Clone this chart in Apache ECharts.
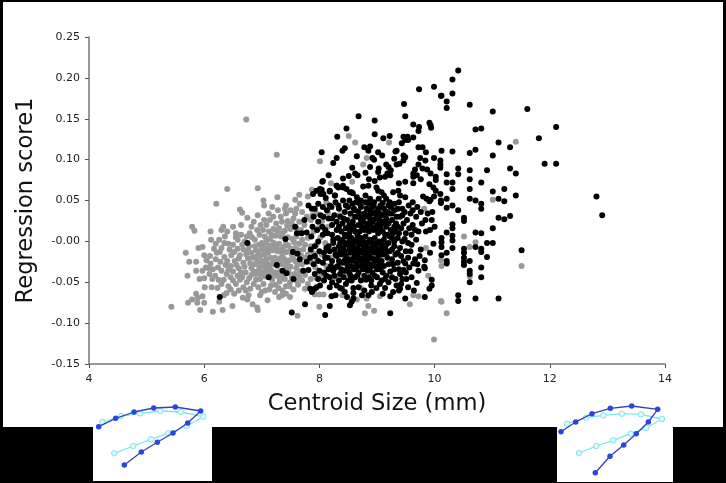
<!DOCTYPE html>
<html>
<head>
<meta charset="utf-8">
<style>
  html, body { margin: 0; padding: 0; background: #000; }
  #main { width: 726px; height: 483px; }
</style>
</head>
<body>
<div id="main"></div>
<script src="https://cdn.jsdelivr.net/npm/echarts@6/dist/echarts.min.js"></script>
<script>
// tick labels
var xTicks = ['4', '6', '8', '10', '12', '14'];
var yTicks = ['-0.15', '-0.10', '-0.05', '-0.00', '0.05', '0.10', '0.15', '0.20', '0.25'];

// grey points
var greyOuter = [[5.43,-.080],[5.72,-.075],[5.79,-.071],[5.86,-.064],[5.89,-.069],[5.97,-.067],[5.88,-.075],[6.00,-.075],[5.93,-.084],[6.15,-.086],[6.32,-.084],[6.49,-.079],[6.26,-.074],[6.23,-.057],[6.39,-.063],[6.52,-.064],[6.67,-.069],[6.77,-.066],[6.75,-.071],[6.84,-.077],[6.92,-.081],[6.93,-.084],[7.10,-.072],[7.30,-.068],[7.35,-.066],[7.49,-.068],[7.42,-.064],[7.23,-.062],[6.97,-.066],[7.06,-.060],[6.01,-.056],[5.92,-.046],[5.71,-.042],[5.86,-.036],[5.74,-.025],[5.86,-.025],[5.68,-.014],[5.90,-.008],[5.97,-.007],[5.79,.018],[5.83,.013],[6.21,.046],[6.40,.064],[6.93,.065],[7.27,.054],[7.03,.050],[7.04,.044],[6.62,.039],[6.66,.035],[6.75,.029],[6.93,.032],[7.42,.044],[7.58,.051],[7.65,.057],[7.66,.046],[6.73,.149],[7.26,.106],[9.99,-.120],[7.62,-.091],[8.00,-.080],[8.00,-.065],[8.07,-.065],[7.92,-.065],[7.75,-.058],[8.40,-.066],[8.65,-.071],[8.72,-.057],[8.82,-.070],[8.85,-.079],[8.95,-.085],[8.79,-.088],[9.05,-.067],[9.57,-.077],[9.63,-.066],[9.72,-.067],[9.89,-.042],[9.85,-.008],[9.82,.040],[10.11,-.023],[10.11,-.073],[10.21,-.088],[10.12,-.074],[10.12,-.030],[10.51,.006],[10.61,-.007],[10.71,-.001],[10.61,-.043],[11.01,.051],[11.41,.122],[11.51,-.030],[8.51,.129],[8.62,.121],[9.21,.121],[8.82,.102],[8.01,.098],[8.76,.094],[8.57,.073],[8.20,.071],[7.87,.063],[7.80,.055],[8.12,.048],[7.95,.034]];

var greyCore = [[6.11,.012],[6.33,.018],[6.30,.014],[6.40,.012],[6.55,.010],[6.64,.008],[6.79,.010],[6.83,.005],[6.35,-.002],[6.42,-.003],[6.20,-.003],[6.30,-.008],[6.17,-.009],[6.00,-.017],[6.10,-.018],[6.04,-.023],[6.11,-.027],[6.22,-.014],[6.27,-.013],[6.35,-.019],[6.47,-.017],[6.58,-.009],[6.70,.000],[6.03,-.032],[5.97,-.036],[6.09,-.040],[6.19,-.042],[6.14,-.046],[6.30,-.036],[6.39,-.040],[6.46,-.044],[6.55,-.052],[6.42,-.055],[6.68,-.056],[6.72,-.060],[6.62,-.047],[6.78,-.045],[6.86,-.052],[6.94,-.056],[7.03,-.052],[7.16,-.054],[7.29,-.057],[7.42,-.055],[7.55,-.059],[7.63,-.053],[6.28,-.025],[6.37,-.029],[6.46,-.030],[6.53,-.024],[6.60,-.033],[6.68,-.026],[6.72,-.038],[6.82,-.033],[6.90,-.040],[6.97,-.046],[7.06,-.043],[7.18,-.047],[7.31,-.049],[7.40,-.046],[7.49,-.050],[6.62,-.017],[6.73,-.016],[6.78,-.006],[6.84,-.020],[6.90,-.011],[6.95,-.004],[6.88,.002],[6.96,.008],[7.02,.014],[7.08,.020],[7.14,.026],[7.12,.034],[7.28,.038],[7.33,.030],[7.42,.034],[7.50,.038],[7.60,.040],[7.70,.036],[7.25,.022],[7.35,.024],[7.45,.025],[7.55,.028],[7.65,.024],[7.78,.030],[7.85,.026],[7.05,.006],[7.12,.012],[7.20,.015],[7.30,.016],[7.40,.013],[7.50,.015],[7.60,.006],[7.70,.002],[7.80,.004],[7.90,.012],[7.00,-.002],[7.08,-.001],[7.15,.003],[7.24,.007],[7.33,.006],[7.45,.005],[7.53,.003],[7.65,-.003],[7.00,-.010],[7.06,-.009],[7.13,-.006],[7.21,-.002],[7.30,-.003],[7.38,-.007],[7.46,-.005],[7.58,-.008],[7.72,-.010],[7.85,-.006],[6.97,-.018],[7.04,-.016],[7.11,-.014],[7.19,-.011],[7.27,-.012],[7.35,-.014],[7.43,-.013],[7.52,-.016],[7.68,-.017],[7.80,-.016],[6.92,-.025],[7.00,-.024],[7.08,-.022],[7.15,-.020],[7.23,-.020],[7.31,-.021],[7.39,-.022],[7.48,-.023],[7.58,-.024],[7.70,-.028],[7.85,-.025],[6.88,-.028],[6.96,-.032],[7.04,-.030],[7.11,-.028],[7.19,-.028],[7.27,-.030],[7.34,-.028],[7.42,-.030],[7.50,-.031],[7.60,-.033],[7.75,-.041],[7.02,-.038],[7.10,-.036],[7.17,-.036],[7.24,-.038],[7.32,-.037],[7.38,-.040],[7.47,-.038],[7.57,-.040],[7.65,-.043],[7.85,-.046],[7.95,-.045],[8.03,-.040],[7.90,-.015],[7.95,-.004],[8.02,.005],[8.10,-.002],[8.15,.018],[8.05,.025],[8.20,-.020],[8.12,-.030],[7.93,-.032],[8.30,-.045],[8.45,-.040],[8.70,-.035],[8.55,.030],[8.35,.032],[8.78,.045],[9.05,-.022]];

// more grey: the solid middle of the cloud and its left side
var greyFill = [[6.50,-.004],[6.58,.002],[6.66,-.004],[6.74,.006],[6.92,.014],[6.98,.020],[7.04,.026],[7.20,.030],[7.08,.003],[7.17,.008],[7.27,.012],[7.36,.010],[7.44,.019],[7.52,.022],[7.60,.016],[7.68,.014],[7.74,.020],[6.44,-.010],[6.52,-.013],[6.60,-.021],[6.68,-.010],[6.76,-.011],[6.82,-.014],[6.88,-.006],[6.94,-.015],[7.02,-.006],[7.10,-.010],[7.18,-.005],[7.25,-.007],[7.34,-.010],[7.42,-.003],[7.50,-.009],[7.56,-.001],[7.64,-.011],[7.75,-.004],[6.40,-.024],[6.50,-.037],[6.56,-.029],[6.64,-.038],[6.70,-.031],[6.76,-.021],[6.80,-.027],[6.86,-.037],[6.90,-.019],[6.94,-.036],[7.00,-.029],[7.06,-.025],[7.13,-.032],[7.20,-.024],[7.28,-.025],[7.36,-.018],[7.44,-.026],[7.54,-.020],[7.62,-.028],[7.66,-.037],[7.76,-.020],[6.24,-.032],[6.34,-.047],[6.42,-.035],[6.50,-.048],[6.58,-.042],[6.66,-.044],[6.74,-.050],[6.82,-.041],[6.90,-.047],[6.98,-.040],[7.06,-.035],[7.12,-.040],[7.20,-.041],[7.28,-.043],[7.36,-.043],[7.44,-.034],[7.52,-.044],[7.60,-.048],[7.70,-.048],[7.80,-.052],[6.20,-.022],[6.15,-.034],[6.25,-.047],[6.08,-.033],[6.00,-.045],[6.13,-.056],[6.30,-.052],[6.34,-.066],[6.46,-.059],[6.60,-.060],[6.80,-.058],[7.00,-.062],[7.13,-.059],[7.24,-.053],[7.36,-.060],[7.48,-.055],[6.12,.002],[6.26,.002],[6.36,.006],[6.50,.018],[6.64,.020],[6.82,.018],[6.86,.024],[6.55,.005],[7.95,-.022],[8.04,-.016],[8.08,-.044],[7.98,.016],[7.88,.032],[8.15,.035],[7.58,.034],[7.40,.040],[7.18,.042]];

// black points
var blackSparse = [[10.41,.209],[10.31,.198],[10.31,.181],[10.12,.178],[10.21,.171],[10.21,.163],[10.61,.167],[11.01,.159],[11.61,.162],[12.11,.140],[11.81,.126],[10.71,.137],[10.81,.138],[11.11,.121],[11.31,.115],[11.01,.105],[10.71,.112],[10.61,.108],[10.31,.110],[10.12,.111],[11.91,.095],[12.11,.095],[11.31,.089],[11.41,.083],[10.91,.087],[10.61,.087],[10.41,.089],[10.41,.082],[10.61,.076],[10.81,.072],[10.21,.082],[10.21,.072],[10.31,.072],[10.31,.064],[10.61,.064],[11.21,.064],[11.01,.061],[11.41,.056],[12.81,.055],[12.91,.032],[11.11,.052],[11.21,.049],[10.61,.052],[10.71,.050],[10.81,.046],[10.81,.040],[10.31,.044],[10.21,.041],[10.41,.038],[10.51,.029],[10.51,.025],[11.11,.029],[11.21,.027],[11.31,.031],[11.01,.016],[10.31,.021],[10.31,.016],[10.21,.011],[10.71,.011],[10.81,.010],[10.31,.007],[10.31,.001],[10.12,.004],[10.12,-.001],[10.12,-.007],[10.91,-.002],[11.01,-.002],[10.71,-.007],[10.31,-.008],[10.81,-.009],[10.81,-.013],[10.51,-.009],[10.51,-.014],[10.51,-.020],[10.51,-.025],[10.51,-.029],[10.21,-.014],[10.12,-.017],[10.91,-.019],[11.51,-.011],[10.61,-.024],[10.21,-.024],[10.21,-.027],[10.81,-.032],[10.61,-.036],[10.61,-.040],[10.81,-.044],[10.61,-.050],[10.71,-.070],[10.41,-.066],[10.41,-.073],[11.11,-.070]];

var blackUpper = [[9.73,.186],[9.99,.189],[10.11,.178],[9.47,.168],[9.49,.153],[8.68,.153],[8.96,.148],[9.63,.143],[9.73,.140],[9.91,.145],[9.93,.142],[9.94,.139],[9.72,.135],[8.47,.138],[8.96,.131],[8.31,.128],[9.11,.126],[9.22,.129],[9.46,.128],[9.53,.128],[9.49,.124],[9.43,.120],[9.54,.124],[9.63,.127],[8.78,.115],[8.88,.116],[8.85,.111],[9.72,.115],[9.79,.115],[9.85,.109],[8.04,.109],[8.44,.114],[8.40,.111],[9.02,.109],[9.34,.111],[9.32,.110],[9.09,.105],[9.46,.105],[9.49,.103],[9.75,.102],[8.65,.104],[8.30,.102],[8.24,.096],[8.92,.102],[8.95,.100],[9.30,.101],[9.46,.099],[9.34,.094],[9.39,.095],[9.84,.099],[9.99,.102],[10.10,.099],[10.10,.094],[10.10,.090],[8.88,.091],[8.57,.090],[9.16,.094],[9.20,.091],[9.24,.087],[9.18,.083],[9.14,.079],[9.23,.081],[9.03,.089],[9.02,.085],[9.72,.094],[9.66,.088],[9.79,.089],[9.87,.088],[9.93,.083],[9.63,.083],[9.69,.081],[9.63,.079],[8.16,.081],[8.80,.084],[8.62,.083],[8.66,.081],[8.51,.080],[8.41,.077],[8.86,.076],[9.05,.078],[8.96,.074],[8.06,.074],[9.49,.073],[9.38,.071],[9.76,.076],[9.63,.071],[9.91,.070],[10.02,.079],[10.02,.075],[8.30,.068],[8.33,.066],[8.41,.068],[8.47,.064],[8.53,.060],[8.58,.059],[8.76,.067],[8.85,.068],[8.04,.063],[8.02,.058],[8.27,.056],[8.18,.061],[9.37,.062],[9.28,.060],[9.40,.056],[9.98,.066],[10.02,.062],[10.10,.058],[8.99,.066],[9.02,.062],[9.08,.060],[9.49,.054],[9.80,.055],[9.86,.052],[9.93,.051],[9.99,.055],[10.11,.050],[10.21,.052]];

var blackLower = [[9.91,.049],[10.11,.047],[9.98,-.003],[9.92,-.014],[9.66,-.022],[9.63,-.027],[9.83,-.023],[9.82,-.031],[9.83,-.033],[9.69,-.051],[9.64,-.060],[9.95,-.047],[9.95,-.054],[9.91,-.058],[9.83,-.068],[9.49,-.070],[9.38,-.060],[9.28,-.062],[9.23,-.067],[9.40,-.058],[9.51,-.046],[9.46,-.035],[9.49,-.027],[9.23,-.037],[9.16,-.042],[9.08,-.048],[9.05,-.052],[8.99,-.057],[9.14,-.057],[8.91,-.062],[8.85,-.066],[9.23,-.088],[8.53,-.078],[8.56,-.074],[8.59,-.070],[8.18,-.079],[8.21,-.067],[7.75,-.077],[7.52,-.087],[8.10,-.090],[8.59,-.063],[8.39,-.058],[8.44,-.062],[8.30,-.054],[8.36,-.057],[8.81,-.047],[8.56,-.048],[8.59,-.057],[8.01,-.054],[7.92,-.058],[7.87,-.060],[7.87,-.062],[7.95,-.056],[7.84,-.058],[6.75,-.002],[6.27,-.068],[7.41,.003],[7.26,-.029],[7.36,-.036],[7.43,-.039],[7.55,-.046],[7.12,-.044],[7.74,.026],[7.58,.018],[7.61,.010],[7.69,.010],[7.78,.011],[7.54,-.013],[7.62,-.015],[7.66,-.022],[7.78,-.025],[7.72,-.036],[7.81,-.035],[7.89,.058],[7.95,.062],[8.05,.073],[8.01,.064],[8.07,.058],[8.18,.062],[8.11,.053],[8.27,.056],[8.30,.068],[8.41,.066],[8.56,.060],[7.81,.044],[7.87,.040],[7.92,.040],[7.98,.046],[8.13,.038],[8.21,.042],[8.33,.044],[8.41,.050],[8.50,.042],[8.65,.054]];

var blackDense = [[8.72,.050],[8.80,.056],[8.88,.052],[8.95,.048],[9.03,.052],[9.10,.047],[9.16,.052],[9.22,.048],[9.30,.046],[9.38,.048],[9.55,.044],[9.62,.048],[9.70,.042],[9.30,.038],[9.44,.040],[9.58,.034],[9.68,.030],[9.76,.036],[9.88,.034],[9.95,.026],[10.00,.018],[9.78,.022],[9.85,.012],[9.72,.012],[9.62,.020],[9.52,.026],[9.40,.030],[9.33,.022],[9.22,.034],[9.12,.040],[9.02,.040],[8.92,.042],[8.82,.040],[8.72,.042],[8.62,.038],[8.54,.034],[8.44,.036],[8.36,.030],[8.26,.032],[8.16,.028],[8.07,.030],[7.98,.024],[7.88,.018],[7.96,.014],[8.05,.018],[8.14,.010],[8.22,.020],[8.30,.024],[8.40,.022],[8.48,.026],[8.58,.024],[8.66,.030],[8.74,.032],[8.84,.032],[8.92,.034],[9.00,.030],[9.08,.032],[9.16,.028],[9.26,.026],[8.68,.020],[8.76,.024],[8.84,.022],[8.92,.024],[9.00,.020],[9.08,.022],[9.16,.018],[9.24,.014],[9.32,.012],[9.42,.016],[9.50,.010],[9.60,.008],[9.68,.002],[8.22,.008],[8.30,.014],[8.38,.012],[8.46,.016],[8.54,.014],[8.62,.012],[8.70,.012],[8.78,.014],[8.86,.012],[8.94,.014],[9.02,.010],[9.10,.012],[9.18,.008],[9.26,.004],[9.36,.004],[9.44,.000],[9.54,-.002],[7.98,.000],[8.06,.008],[8.16,-.006],[8.24,-.002],[8.32,.004],[8.40,.002],[8.48,.006],[8.56,.004],[8.64,.002],[8.72,.004],[8.80,.006],[8.88,.002],[8.96,.004],[9.04,.000],[9.12,.002],[9.20,-.002],[9.30,-.006],[9.40,-.008],[9.50,-.012],[9.58,-.012],[9.76,-.010],[9.74,-.018],[7.85,-.010],[7.92,-.018],[8.00,-.012],[8.08,-.014],[8.18,-.012],[8.26,-.010],[8.34,-.006],[8.42,-.008],[8.50,-.004],[8.58,-.006],[8.66,-.008],[8.74,-.004],[8.82,-.006],[8.90,-.008],[8.98,-.006],[9.06,-.010],[9.14,-.008],[9.22,-.012],[9.32,-.016],[9.42,-.018],[9.54,-.020],[7.90,-.028],[7.98,-.024],[8.06,-.026],[8.14,-.020],[8.22,-.024],[8.30,-.018],[8.38,-.016],[8.46,-.018],[8.54,-.014],[8.62,-.016],[8.70,-.014],[8.78,-.016],[8.86,-.018],[8.94,-.014],[9.02,-.018],[9.10,-.016],[9.18,-.020],[9.26,-.022],[9.36,-.026],[9.56,-.032],[9.72,-.036],[8.00,-.036],[8.08,-.038],[8.16,-.034],[8.24,-.036],[8.32,-.030],[8.40,-.026],[8.48,-.028],[8.56,-.024],[8.64,-.026],[8.72,-.024],[8.80,-.026],[8.88,-.028],[8.96,-.024],[9.04,-.028],[9.12,-.030],[9.30,-.034],[9.40,-.040],[9.60,-.044],[9.32,-.046],[7.98,-.046],[8.08,-.048],[8.18,-.044],[8.26,-.042],[8.36,-.040],[8.44,-.036],[8.52,-.038],[8.60,-.034],[8.68,-.038],[8.76,-.034],[8.84,-.036],[8.92,-.038],[9.00,-.034],[9.10,-.038],[8.18,-.056],[8.50,-.048],[8.62,-.044],[8.72,-.048],[8.90,-.048],[9.00,-.044],[9.20,-.050],[9.10,-.064],[9.42,-.052],[9.54,-.056],[8.46,-.052],[8.68,-.056],[8.78,-.060],[8.28,-.066]];

// more black: the packed centre of the cloud
var blackFill = [[8.34,.040],[8.46,.044],[8.58,.046],[8.68,.036],[8.78,.034],[8.88,.038],[8.98,.036],[9.06,.044],[9.18,.036],[8.42,.028],[8.52,.020],[8.62,.030],[8.72,.026],[8.80,.030],[8.88,.028],[8.96,.027],[9.04,.026],[9.12,.024],[9.20,.022],[9.30,.018],[8.34,.018],[8.44,.008],[8.52,.010],[8.60,.018],[8.66,.008],[8.74,.018],[8.82,.018],[8.90,.018],[8.98,.016],[9.06,.016],[9.14,.008],[9.22,.006],[9.30,.000],[8.36,-.002],[8.44,-.002],[8.52,.000],[8.60,-.001],[8.68,-.002],[8.76,.000],[8.84,-.001],[8.92,-.002],[9.00,-.002],[9.08,-.004],[9.16,-.004],[9.26,-.010],[8.28,-.016],[8.36,-.012],[8.44,-.013],[8.52,-.010],[8.60,-.011],[8.68,-.011],[8.76,-.010],[8.84,-.012],[8.92,-.012],[9.00,-.012],[9.08,-.013],[9.16,-.014],[8.12,-.008],[8.34,-.024],[8.44,-.023],[8.52,-.022],[8.60,-.020],[8.68,-.020],[8.76,-.021],[8.84,-.022],[8.92,-.021],[9.00,-.022],[9.08,-.024],[9.20,-.028],[8.20,-.030],[8.28,-.032],[8.38,-.034],[8.48,-.034],[8.56,-.031],[8.64,-.032],[8.72,-.030],[8.80,-.031],[8.88,-.032],[8.96,-.030],[9.06,-.034],[8.12,-.042],[8.22,-.050],[8.34,-.048],[8.42,-.044],[8.54,-.042],[8.66,-.042],[8.78,-.042],[8.86,-.044],[8.96,-.042],[9.14,-.046],[9.26,-.044],[8.24,.002],[8.10,.014],[8.02,.032],[8.18,.044],[8.28,.048],[8.52,.050],[8.64,.048],[8.80,.048],[9.12,.056],[9.24,.042],[9.36,.040],[9.48,.036],[9.62,.038],[9.46,.022],[9.56,.016],[9.66,.014],[9.38,.010],[9.48,.003],[9.60,-.004],[9.36,-.014],[9.46,-.024],[9.28,-.028],[9.38,-.034],[9.50,-.038],[9.44,-.046],[9.70,-.028],[9.34,-.054],[8.90,-.054],[8.74,-.066],[8.48,-.068],[8.10,-.020],[7.92,-.006],[7.86,.006],[7.84,-.020],[7.92,-.040],[7.90,.030],[8.06,.042],[8.22,.028],[9.84,.026],[9.92,.014],[9.96,.036],[8.94,.044],[9.04,.034],[9.14,.034],[9.26,.034],[9.34,.030],[9.44,.032],[9.20,.044],[9.10,.024],[8.86,.046],[8.70,.046],[8.60,.040],[9.28,.010],[9.36,.018]];

// the two little outlines under the plot
var leftDark = [[5.7,26.7],[22.7,18.3],[41,12],[60.7,8],[82.3,7],[107.7,11],[94.7,23],[80,33],[64.3,42.3],[48.3,52],[31.3,65]];
var leftLight = [[9.3,22],[28,16],[47,13.3],[67.3,11],[87.7,12],[110.3,16.7],[93.7,26],[75.3,33.3],[58,39.3],[40.3,46],[21.3,53.3]];
var rightDark = [[4,31.7],[18.7,22],[35,13.7],[53.3,8.3],[74.7,6],[100.7,9.3],[91.3,22],[79.3,33.7],[66.7,45],[53,56.3],[38.3,72.7]];
var rightLight = [[10,23.7],[29,17.7],[46.3,15.3],[64.7,13.7],[84,14.3],[105,19],[89,28],[73.7,33.7],[56.3,40.3],[39.3,46],[22,53]];

function outline(data, idx, dark) {
    return {
        type: 'line',
        xAxisIndex: idx,
        yAxisIndex: idx,
        data: data,
        symbol: 'circle',
        symbolSize: 5.5,
        silent: true,
        animation: false,
        z: dark ? 6 : 5,
        lineStyle: { color: dark ? '#3a3fb8' : '#7ce6ee', width: 1.3 },
        itemStyle: dark
            ? { color: '#2b45e0' }
            : { color: '#dffafc', borderColor: '#7ce6ee', borderWidth: 1 }
    };
}

function hiddenAxis(max, inverse) {
    return { type: 'value', min: 0, max: max, inverse: inverse, show: false };
}

var myChart = echarts.init(document.getElementById('main'), null, { renderer: 'canvas' });

var labelFont = { color: '#222', fontSize: 11, fontFamily: 'DejaVu Sans' };
var nameFont = { color: '#111', fontSize: 22.6, fontFamily: 'DejaVu Sans' };

var option = {
    animation: false,
    backgroundColor: '#000',
    graphic: [
        { type: 'rect', z: -1, shape: { x: 3, y: 2, width: 720, height: 425 }, style: { fill: '#fff' } },
        { type: 'rect', z: -1, shape: { x: 93, y: 420, width: 119, height: 61 }, style: { fill: '#fff' } },
        { type: 'rect', z: -1, shape: { x: 557, y: 420, width: 116, height: 62 }, style: { fill: '#fff' } }
    ],
    grid: [
        { left: 89, top: 37, width: 576, height: 327 },
        { left: 93, top: 400, width: 120, height: 80 },
        { left: 557, top: 400, width: 120, height: 80 }
    ],
    xAxis: [
        {
            type: 'value', min: 4, max: 14, interval: 2,
            name: 'Centroid Size (mm)', nameLocation: 'middle', nameGap: 29,
            nameTextStyle: nameFont,
            splitLine: { show: false },
            axisLine: { onZero: false, lineStyle: { color: '#777', width: 1.5 } },
            axisTick: { length: 4, lineStyle: { color: '#555' } },
            axisLabel: Object.assign({ margin: 10, formatter: function (v) { return xTicks[(v - 4) / 2]; } }, labelFont)
        },
        Object.assign({ gridIndex: 1 }, hiddenAxis(120, false)),
        Object.assign({ gridIndex: 2 }, hiddenAxis(120, false))
    ],
    yAxis: [
        {
            type: 'value', min: -0.15, max: 0.25, interval: 0.05,
            name: 'Regression score1', nameLocation: 'middle', nameGap: 51,
            nameTextStyle: nameFont,
            splitLine: { show: false },
            axisLine: { onZero: false, lineStyle: { color: '#777', width: 1.5 } },
            axisTick: { length: 4, lineStyle: { color: '#555' } },
            axisLabel: Object.assign({ margin: 9, formatter: function (v) { return yTicks[Math.round((v + 0.15) / 0.05)]; } }, labelFont)
        },
        Object.assign({ gridIndex: 1 }, hiddenAxis(80, true)),
        Object.assign({ gridIndex: 2 }, hiddenAxis(80, true))
    ],
    series: [
        { type: 'scatter', data: greyOuter.concat(greyCore, greyFill), symbolSize: 6, itemStyle: { color: '#999', opacity: 1 }, z: 3 },
        { type: 'scatter', data: blackSparse.concat(blackUpper, blackLower, blackDense, blackFill), symbolSize: 6, itemStyle: { color: '#000', opacity: 1 }, z: 4 },
        outline(leftLight, 1, false),
        outline(leftDark, 1, true),
        outline(rightLight, 2, false),
        outline(rightDark, 2, true)
    ]
};

myChart.setOption(option);
</script>
</body>
</html>
